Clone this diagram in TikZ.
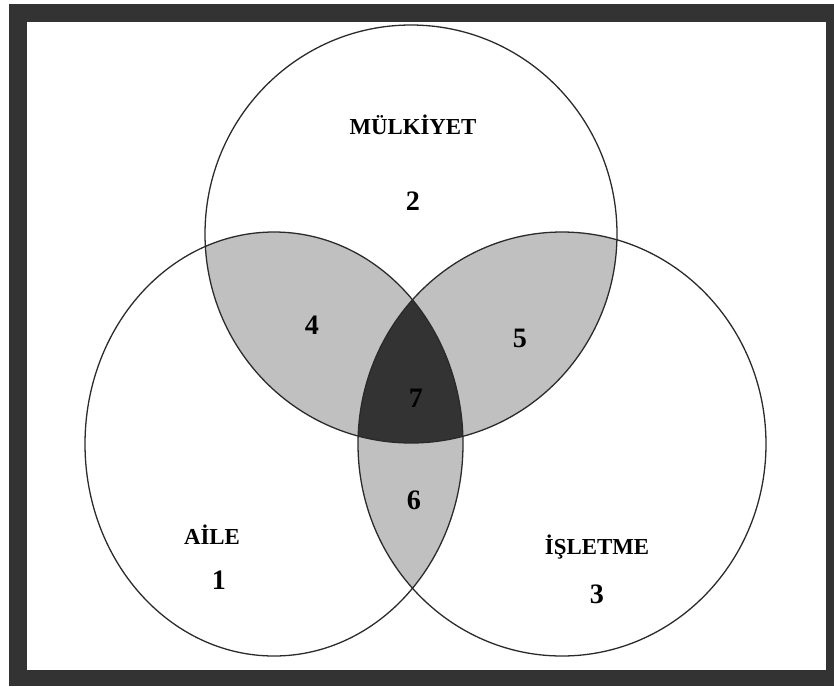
\documentclass[tikz,border=0pt]{standalone}
\usepackage{fontspec}
\setmainfont{Liberation Serif}
\usetikzlibrary{positioning}
\definecolor{frameInk}{HTML}{333333}
\definecolor{ringInk}{HTML}{2A2A2A}
\definecolor{lensGray}{HTML}{C0C0C0}
\definecolor{coreGray}{HTML}{333333}

\begin{document}
\begin{tikzpicture}[
  x=0.03cm, y=-0.03cm,
  ring/.style={draw=ringInk, line width=1.1pt},
  topSize/.style={x radius=206, y radius=209},
  leftSize/.style={x radius=189, y radius=212},
  rightSize/.style={x radius=204, y radius=212},
  setLabel/.style={font=\fontsize{19.5}{22}\selectfont\bfseries, text=black, inner sep=0pt},
  regionNum/.style={font=\fontsize{24}{28}\selectfont\bfseries, text=black, inner sep=0pt}
]

% Force the reference size, 834 x 686 px
\useasboundingbox (0,0) rectangle (834,686);

% Dark frame
\fill[frameInk] (9,4) rectangle (834,686);
\fill[white] (27,22) rectangle (826,670);

% Centres of the three sets
\coordinate (mulkiyet) at (411,234);
\coordinate (aile) at (274,444);
\coordinate (isletme) at (562,444);

% Pairwise overlaps (4, 5, 6)
\begin{scope}
  \clip (mulkiyet) ellipse [topSize];
  \fill[lensGray] (aile) ellipse [leftSize];
  \fill[lensGray] (isletme) ellipse [rightSize];
\end{scope}
\begin{scope}
  \clip (aile) ellipse [leftSize];
  \fill[lensGray] (isletme) ellipse [rightSize];
\end{scope}

% Common core (7)
\begin{scope}
  \clip (mulkiyet) ellipse [topSize];
  \clip (aile) ellipse [leftSize];
  \fill[coreGray] (isletme) ellipse [rightSize];
\end{scope}

% Outlines
\draw[ring] (mulkiyet) ellipse [topSize];
\draw[ring] (aile) ellipse [leftSize];
\draw[ring] (isletme) ellipse [rightSize];

% Set names
\node[setLabel] (mulkiyetName) at (413,125) {MÜLKİYET};
\node[setLabel] (aileName) at (212,535) {AİLE};
\node[setLabel] (isletmeName) at (597,547) {İŞLETME};

% Region numbers
\node[regionNum] (r1) at (219,580) {1};
\node[regionNum] (r2) at (413,201) {2};
\node[regionNum] (r3) at (597,594) {3};
\node[regionNum] (r4) at (312,325) {4};
\node[regionNum] (r5) at (520,338) {5};
\node[regionNum] (r6) at (414,500) {6};
\node[regionNum] (r7) at (416,398) {7};

\end{tikzpicture}
\end{document}
